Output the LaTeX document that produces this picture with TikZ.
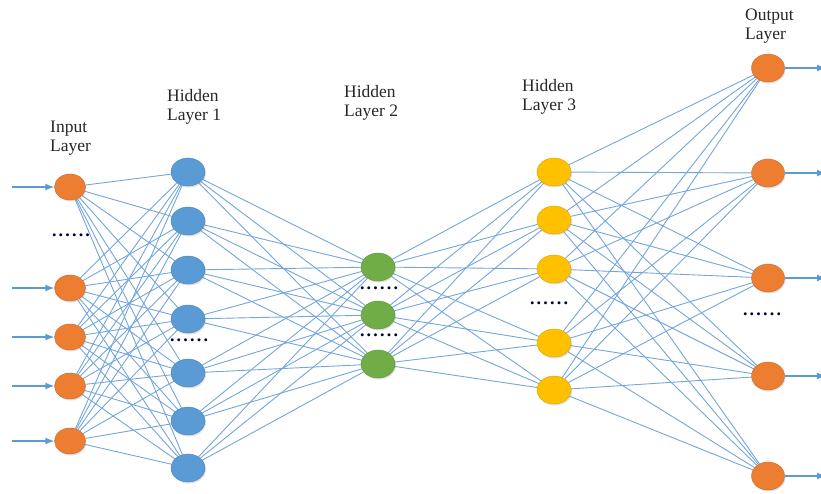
\documentclass[tikz,border=0pt]{standalone}
\usepackage{fontspec}
\setmainfont{Liberation Serif}
\usetikzlibrary{arrows.meta,backgrounds,shadows,shapes.geometric}
\newcommand\mydots{\textbf{.\kern2.2pt.\kern2.2pt.\kern2.2pt.\kern2.2pt.\kern2.2pt.}}
\begin{document}
\begin{tikzpicture}[x=1pt,y=-1pt,
  neuron/.style={shape=ellipse,minimum width=32pt,minimum height=26pt,inner sep=0pt,
    draw=#1!85!black,line width=0.4pt,fill=#1,
    drop shadow={shadow xshift=1pt,shadow yshift=-1.5pt,opacity=0.25}},
  conn/.style={draw=linkblue,line width=0.9pt},
  io/.style={draw=arrowblue,line width=1.3pt,-{Latex[length=9pt,width=7pt]}},
  lbl/.style={align=left,anchor=west,inner sep=0pt,font=\fontsize{17.5}{19}\selectfont,text=black!85},
  dotlbl/.style={font=\fontsize{18}{18}\selectfont,text=black!80!blue,inner sep=0pt}]
\definecolor{c-orange}{HTML}{ED7D31}
\definecolor{c-blue}{HTML}{5B9BD5}
\definecolor{c-green}{HTML}{70AD47}
\definecolor{c-gold}{HTML}{FFC000}
\definecolor{linkblue}{HTML}{74A6DC}
\definecolor{arrowblue}{HTML}{5B9BD5}
\useasboundingbox (0,0) rectangle (821,493);
% input layer
\foreach \i/\y in {1/187,2/288,3/337,4/386,5/441}
  \node[neuron=c-orange,minimum width=31pt,minimum height=26pt] (i\i) at (70,\y) {};
% hidden 1
\foreach \i/\y in {1/172,2/221,3/270,4/319,5/373,6/421,7/468}
  \node[neuron=c-blue,minimum width=34pt,minimum height=28pt] (a\i) at (188,\y) {};
% hidden 2
\foreach \i/\y in {1/267,2/315,3/364}
  \node[neuron=c-green,minimum width=34pt,minimum height=28pt] (b\i) at (378,\y) {};
% hidden 3
\foreach \i/\y in {1/172,2/220,3/269,4/343,5/390}
  \node[neuron=c-gold,minimum width=34pt,minimum height=28pt] (c\i) at (554,\y) {};
% output
\foreach \i/\y in {1/68,2/173,3/278,4/376,5/476}
  \node[neuron=c-orange,minimum width=33pt,minimum height=28pt] (o\i) at (768,\y) {};
% connections
\begin{scope}[on background layer]
\foreach \s in {1,...,5} \foreach \t in {1,...,7} \draw[conn] (i\s) -- (a\t);
\foreach \s in {1,...,7} \foreach \t in {1,...,3} \draw[conn] (a\s) -- (b\t);
\foreach \s in {1,...,3} \foreach \t in {1,...,5} \draw[conn] (b\s) -- (c\t);
\foreach \s in {1,...,5} \foreach \t in {1,...,5} \draw[conn] (c\s) -- (o\t);
\end{scope}
% input arrows
\foreach \i/\y in {1/187,2/288,3/337,4/386,5/441} {
  \coordinate (ia\i) at (12,\y);
  \draw[io] (ia\i) -- (i\i.west);
}
% output arrows
\foreach \i/\y in {1/68,2/173,3/278,4/376,5/476} {
  \coordinate (oa\i) at (826,\y);
  \draw[io] (o\i.east) -- (oa\i);
}
% labels
\node[lbl] (linput) at (50,138) {Input\\Layer};
\node[lbl] (lh1) at (167,107) {Hidden\\Layer 1};
\node[lbl] (lh2) at (344,103) {Hidden\\Layer 2};
\node[lbl] (lh3) at (522,97) {Hidden\\Layer 3};
\node[lbl] (lout) at (745,26) {Output\\Layer};
% dots
\node[dotlbl] (d0) at (71,235) {\mydots};
\node[dotlbl] (d1) at (189,340) {\mydots};
\node[dotlbl] (d2) at (379,288) {\mydots};
\node[dotlbl] (d3) at (379,335) {\mydots};
\node[dotlbl] (d4) at (549,303) {\mydots};
\node[dotlbl] (d5) at (762,314) {\mydots};
\end{tikzpicture}
\end{document}
